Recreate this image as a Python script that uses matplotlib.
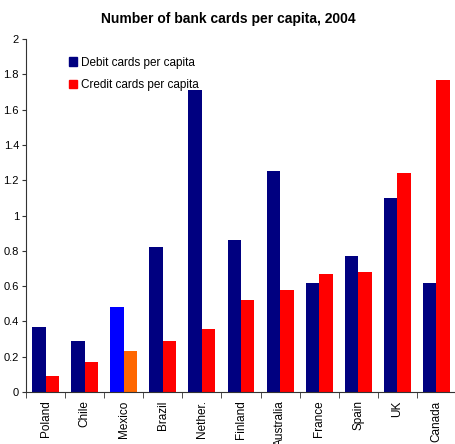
import numpy as np
import matplotlib
matplotlib.use("Agg")
import matplotlib.pyplot as plt
from matplotlib.patches import Patch

plt.rcParams["font.family"] = ["Liberation Sans", "DejaVu Sans"]

COUNTRIES = ["Poland", "Chile", "Mexico", "Brazil", "Nether.", "Finland",
             "Australia", "France", "Spain", "UK", "Canada"]
DEBIT = [0.37, 0.29, 0.48, 0.82, 1.71, 0.86, 1.25, 0.62, 0.77, 1.10, 0.62]
CREDIT = [0.09, 0.17, 0.23, 0.29, 0.36, 0.52, 0.58, 0.67, 0.68, 1.24, 1.77]
HIGHLIGHT = "Mexico"

NAVY, RED = "#000080", "#FF0000"
BLUE_HL, ORANGE_HL = "#0000FF", "#FF6600"

fig = plt.figure(figsize=(4.56, 4.44), dpi=100)
ax = fig.add_axes([0.057, 0.117, 0.943, 0.795])

x = np.arange(len(COUNTRIES))
w = 0.345
dcol = [BLUE_HL if c == HIGHLIGHT else NAVY for c in COUNTRIES]
ccol = [ORANGE_HL if c == HIGHLIGHT else RED for c in COUNTRIES]
ax.bar(x - w / 2, DEBIT, w, color=dcol)
ax.bar(x + w / 2, CREDIT, w, color=ccol)

ax.set_xlim(-0.5, len(COUNTRIES) - 0.5)
ax.set_ylim(0, 2)
ax.set_yticks(np.arange(0, 2.01, 0.2))
ax.set_yticklabels(["0", "0.2", "0.4", "0.6", "0.8", "1", "1.2", "1.4", "1.6", "1.8", "2"],
                   fontsize=8)
ax.set_xticks(x)
ax.set_xticklabels(COUNTRIES, rotation=90, fontsize=8.5)
ax.tick_params(axis="x", length=0, pad=6)
ax.set_xticks(np.arange(-0.5, len(COUNTRIES)), minor=True)
ax.tick_params(axis="x", which="minor", length=4, direction="out", color="#333333")
ax.tick_params(axis="y", length=3, color="#333333", pad=2)
for s in ["top", "right"]:
    ax.spines[s].set_visible(False)
for s in ["left", "bottom"]:
    ax.spines[s].set_color("#333333")

ax.legend(handles=[Patch(color=NAVY, label="Debit cards per capita"),
                   Patch(color=RED, label="Credit cards per capita")],
          loc="upper left", bbox_to_anchor=(0.075, 0.98), frameon=False,
          fontsize=8.5, handlelength=0.7, handleheight=0.7, handletextpad=0.3,
          labelspacing=0.9)

fig.suptitle("Number of bank cards per capita, 2004", fontsize=10,
             fontweight="bold", y=0.972)

fig.savefig("out.png", dpi=100)
